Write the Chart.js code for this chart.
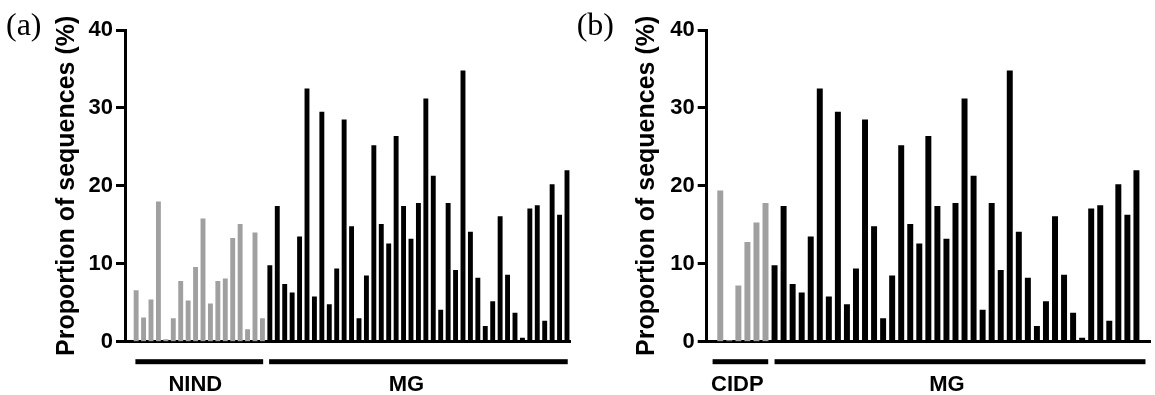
<!DOCTYPE html>
<html>
<head>
<meta charset="utf-8">
<script src="https://cdn.jsdelivr.net/npm/chart.js@4.4.1/dist/chart.umd.min.js"></script>
<style>
    body { margin: 0; background: #fff; width: 1155px; height: 395px; overflow: hidden; position: relative; }
    canvas { position: absolute; top: 0; }
    #chart_a { left: 0; }
    #chart_b { left: 570px; }
</style>
</head>
<body>
<canvas id="chart_a" width="580" height="395"></canvas>
<canvas id="chart_b" width="585" height="395"></canvas>
<script>
// proportion of sequences (%) per sample
var nind_values = [6.6, 3.1, 5.4, 18.0, 0.3, 3.0, 7.8, 5.3, 9.6, 15.8, 4.9, 7.8, 8.1, 13.3, 15.1, 1.6, 14.0, 3.0];
var cidp_values = [19.4, 0.2, 7.2, 12.8, 15.3, 17.8];
var mg_values = [9.8, 17.4, 7.4, 6.3, 13.5, 32.5, 5.8, 29.5, 4.8, 9.4,
                 28.5, 14.8, 3.0, 8.5, 25.2, 15.1, 12.6, 26.4, 17.4, 13.2,
                 17.8, 31.2, 21.3, 4.1, 17.8, 9.2, 34.8, 14.1, 8.2, 2.0,
                 5.2, 16.1, 8.6, 3.7, 0.5, 17.1, 17.5, 2.7, 20.2, 16.3, 22.0];
var y_ticks = [0, 10, 20, 30, 40];
var y_title = 'Proportion of sequences (%)';

var gray = '#a0a0a0';
var black = '#000000';
var sans = "'Liberation Sans', Arial, sans-serif";
var serif = "'Liberation Serif', 'Times New Roman', serif";

// group bars + names under the x axis, panel letter top left
var panel_extras = {
    id: 'panel_extras',
    afterDraw: function (chart, args, o) {
        var ctx = chart.ctx;
        var xs = chart.scales.x;
        var area = chart.chartArea;
        var slot = xs.getPixelForValue(1) - xs.getPixelForValue(0);
        ctx.save();
        ctx.fillStyle = '#000';
        o.groups.forEach(function (g, i) {
            var x1 = xs.getPixelForValue(g.first) - slot * o.line_ext[i][0];
            var x2 = xs.getPixelForValue(g.last) + slot * o.line_ext[i][1];
            ctx.fillRect(x1, area.bottom + 17.5, x2 - x1, 5);
            ctx.font = 'bold 22px ' + sans;
            ctx.textAlign = 'center';
            ctx.textBaseline = 'middle';
            ctx.fillText(g.label, (x1 + x2) / 2 + o.label_dx[i], area.bottom + 43);
        });
        ctx.font = '32px ' + serif;
        ctx.textAlign = 'left';
        ctx.textBaseline = 'alphabetic';
        ctx.fillText(o.letter, o.letter_x, o.letter_y);
        ctx.restore();
    }
};

function make_panel(canvas_id, letter, groups, lead, trail, axis_x, title_pad, pad_right, line_ext, label_dx, letter_x, letter_y) {
    var labels = [];
    var values = [];
    var colors = [];
    var group_pos = [];
    for (var i = 0; i < lead; i++) { labels.push(''); values.push(null); colors.push(black); }
    groups.forEach(function (g) {
        var first = values.length;
        g.values.forEach(function (v, j) {
            labels.push(g.label + ' ' + (j + 1));
            values.push(v);
            colors.push(g.color);
        });
        group_pos.push({label: g.label, first: first, last: values.length - 1});
    });
    for (var k = 0; k < trail; k++) { labels.push(''); values.push(null); colors.push(black); }

    return new Chart(document.getElementById(canvas_id), {
        type: 'bar',
        data: {
            labels: labels,
            datasets: [{
                data: values,
                backgroundColor: colors,
                borderWidth: 0,
                barPercentage: 0.66,
                categoryPercentage: 1.0
            }]
        },
        options: {
            responsive: false,
            animation: false,
            devicePixelRatio: 1,
            layout: { padding: { top: 30, right: pad_right, bottom: 0, left: 0 } },
            plugins: {
                legend: { display: false },
                tooltip: { enabled: false },
                panel_extras: { groups: group_pos, line_ext: line_ext, label_dx: label_dx, letter: letter, letter_x: letter_x, letter_y: letter_y }
            },
            scales: {
                x: {
                    type: 'category',
                    offset: true,
                    ticks: { display: false },
                    grid: { display: false },
                    border: { display: true, color: '#000', width: 3 },
                    afterFit: function (s) { s.height = 53.3; }
                },
                y: {
                    min: 0,
                    max: 40,
                    afterBuildTicks: function (s) { s.ticks = y_ticks.map(function (v) { return {value: v}; }); },
                    ticks: { color: '#000', padding: 3, font: { family: sans, size: 22, weight: 'bold' } },
                    grid: { drawOnChartArea: false, drawTicks: true, tickLength: 9, tickWidth: 3, tickColor: '#000' },
                    border: { display: true, color: '#000', width: 3 },
                    title: {
                        display: true,
                        text: y_title,
                        color: '#000',
                        font: { family: sans, size: 25, weight: 'bold' },
                        padding: { top: title_pad, bottom: 0 }
                    },
                    afterFit: function (s) { s.width = axis_x; }
                }
            }
        },
        plugins: [panel_extras]
    });
}

var chart_a = make_panel('chart_a', '(a)',
    [{label: 'NIND', values: nind_values, color: gray}, {label: 'MG', values: mg_values, color: black}],
    1, 0, 125, 52, 9.3, [[0.1, 0.1], [0.1, 0.1]], [-4, -12], 6, 35);

var chart_b = make_panel('chart_b', '(b)',
    [{label: 'CIDP', values: cidp_values, color: gray}, {label: 'MG', values: mg_values, color: black}],
    1, 1, 136.7, 62, 5, [[0.85, 0.3], [0.0, 1.0]], [-3, -13], 6.7, 35);
</script>
</body>
</html>
